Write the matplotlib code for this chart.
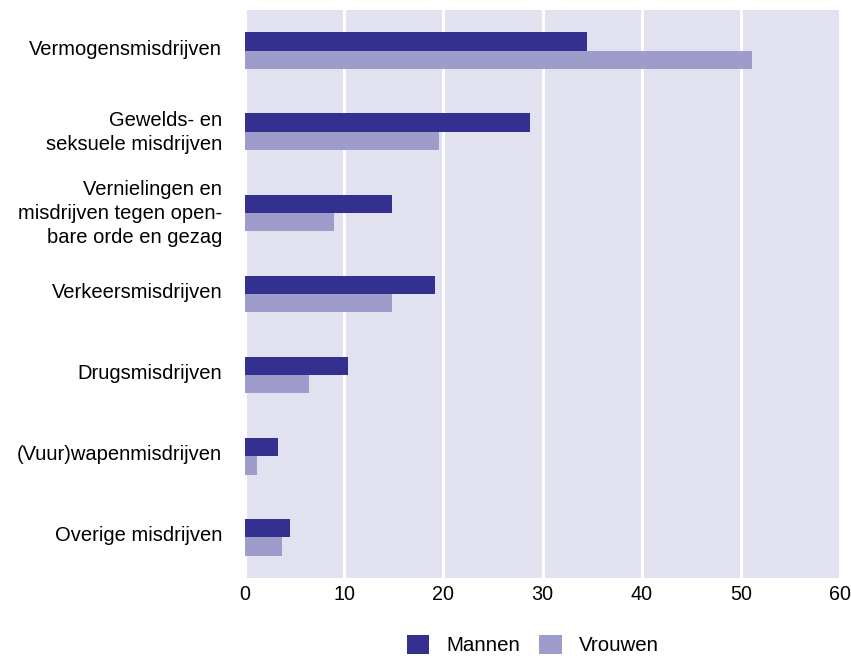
import matplotlib
matplotlib.use("Agg")
import matplotlib.pyplot as plt
import matplotlib.transforms as mtransforms
import numpy as np

categories = ["Vermogensmisdrijven", "Gewelds- en\nseksuele misdrijven",
              "Vernielingen en\nmisdrijven tegen open-\nbare orde en gezag",
              "Verkeersmisdrijven", "Drugsmisdrijven", "(Vuur)wapenmisdrijven",
              "Overige misdrijven"]
mannen = [34.5, 28.7, 14.8, 19.2, 10.4, 3.3, 4.5]
vrouwen = [51.1, 19.6, 9.0, 14.8, 6.5, 1.2, 3.7]
xticks = [0, 10, 20, 30, 40, 50, 60]

plt.rcParams['font.family'] = ['Liberation Sans', 'DejaVu Sans']
fig = plt.figure(figsize=(8.51, 6.58), dpi=100)
ax = fig.add_axes([245/851, 1-578/658, 595/851, 568/658])
ax.set_facecolor('#e2e1f0')
y = np.arange(len(categories))
h = 0.225
ax.barh(y - h/2, mannen, height=h, color='#33308f', label='Mannen', zorder=3)
ax.barh(y + h/2, vrouwen, height=h, color='#9e9cca', label='Vrouwen', zorder=3)
ax.set_ylim(len(categories) - 0.5, -0.5)
ax.set_xlim(0, 60)
ax.set_xticks(xticks)
ax.set_xticklabels([str(t) for t in xticks], fontsize=14.2)
ax.set_yticks(y)
ax.set_yticklabels(categories, fontsize=14.5, linespacing=1.33)
ax.tick_params(axis='y', length=0, pad=16.5)
ax.tick_params(axis='x', length=0, pad=5)
shift = mtransforms.ScaledTranslation(0, 3.5/100, fig.dpi_scale_trans)
for lbl in ax.get_yticklabels():
    lbl.set_verticalalignment('center_baseline')
    lbl.set_transform(lbl.get_transform() + shift)
ax.grid(axis='x', color='white', linewidth=2.2, zorder=1)
for s in ax.spines.values():
    s.set_visible(False)
ax.legend(loc='center', bbox_to_anchor=(533/851, 1-645/658), bbox_transform=fig.transFigure,
          ncol=2, frameon=False, fontsize=14.8, handlelength=1.1, handleheight=1.1,
          columnspacing=0.9, handletextpad=0.85)
fig.savefig("out.png", dpi=100)
